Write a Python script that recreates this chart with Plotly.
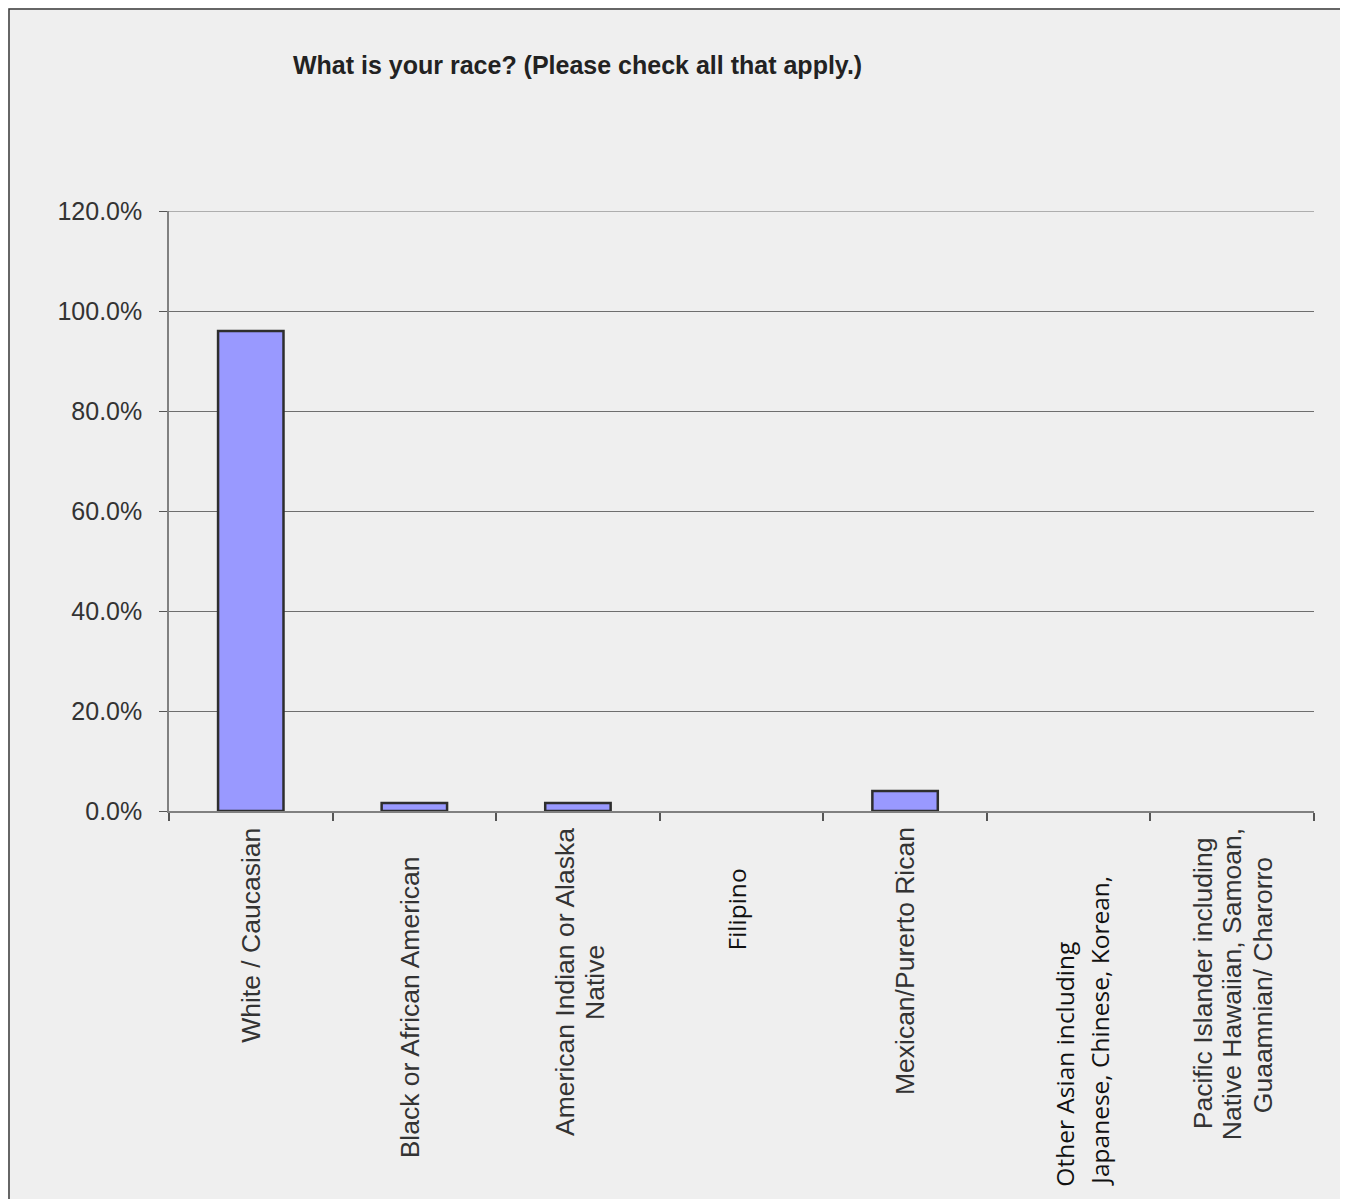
import plotly.graph_objects as go

# ---- data ----
categories = [
    "White / Caucasian",
    "Black or African American",
    "American Indian or Alaska<br>Native",
    "Filipino",
    "Mexican/Purerto Rican",
    "Other Asian including<br>Japanese, Chinese, Korean,",
    "Pacific Islander including<br>Native Hawaiian, Samoan,<br>Guaamnian/ Charorro",
]
values = [96.0, 1.6, 1.6, 0.0, 4.0, 0.0, 0.0]
y_ticks = [0, 20, 40, 60, 80, 100, 120]
title_text = "What is your race? (Please check all that apply.)"

# ---- layout constants (pixels, figure coords; page has an 8px body margin) ----
OFF = 8
W, H = 1338, 1191
L, T = 169 - OFF, 211 - OFF
R = W - (1314 - OFF)
B = H - (811 - OFF)
plot_h = H - T - B
plot_w = W - L - R

BG = "#EFEFEF"
GRID = "#6e6e6e"

fig = go.Figure()
fig.add_trace(go.Bar(
    x=list(range(len(categories))),
    y=values,
    marker=dict(color="#9999FF",
                line=dict(color="#2e2e2e", width=[2.5 if v > 0 else 0 for v in values])),
    width=0.4,
    hoverinfo="skip",
))

# top gridline (at the range edge, which plotly skips)
fig.add_hline(y=y_ticks[-1], line=dict(color=GRID, width=1), layer="below")

# label styling per line: vertical centre (screen px), x shift px
label_line_center_px = [[935], [1007], [982, 982], [910], [961], [1064, 1031], [983, 984, 985]]
label_line_xshift = [[0], [-4], [-13, 17], [-6], [0], [-5, 30], [-29, 0, 31]]
label_font = ["Liberation Sans", "Liberation Sans", "Liberation Sans", "Open Sans",
              "Liberation Sans", "Open Sans", "Liberation Sans"]
label_size = [26.5, 26.5, 26.5, 24.5, 26.5, 24.5, 26.5]
label_color = ["#333333", "#333333", "#333333", "#111111", "#333333", "#111111", "#333333"]

for i, cat in enumerate(categories):
    for j, line in enumerate(cat.split("<br>")):
        cy = label_line_center_px[i][j] - OFF
        fig.add_annotation(
            x=i, xref="x",
            y=(H - B - cy) / plot_h, yref="paper",
            text=line, showarrow=False, textangle=-90,
            xanchor="center", yanchor="middle",
            xshift=label_line_xshift[i][j],
            font=dict(family=label_font[i], size=label_size[i], color=label_color[i]),
        )

# outer border
fig.add_shape(
    type="rect", xref="paper", yref="paper",
    x0=(1 - L) / plot_w, x1=(1345 - OFF - L) / plot_w,
    y0=(H - B - 1250) / plot_h, y1=(H - B - 1) / plot_h,
    line=dict(color="#3a3a3a", width=1.5), fillcolor="rgba(0,0,0,0)", layer="below",
)

fig.update_layout(
    width=W, height=H,
    margin=dict(l=L, r=R, t=T, b=B, pad=0),
    paper_bgcolor=BG, plot_bgcolor=BG,
    showlegend=False,
    title=dict(
        text=title_text,
        font=dict(family="Liberation Sans", size=25, color="#222222", weight="bold"),
        xref="container", yref="container",
        x=(293 - OFF) / W, xanchor="left",
        y=1 - (65 - OFF) / H, yanchor="middle",
    ),
    bargap=0.6,
)

fig.update_xaxes(
    type="linear",
    range=[-0.5, len(categories) - 0.5],
    tickmode="array",
    tickvals=[i - 0.5 for i in range(len(categories) + 1)],
    ticktext=[""] * (len(categories) + 1),
    ticks="outside", ticklen=8, tickcolor="#555555", tickwidth=1.5,
    showline=True, linecolor="#808080", linewidth=2,
    showgrid=False, zeroline=False, fixedrange=True,
)
fig.update_yaxes(
    range=[0, 120],
    tickmode="array", tickvals=y_ticks,
    ticktext=[f"{v:.1f}%" for v in y_ticks],
    ticks="outside", ticklen=8, tickcolor="#555555", tickwidth=1,
    ticklabelstandoff=12,
    showline=True, linecolor="#808080", linewidth=1.5,
    showgrid=True, gridcolor=GRID, gridwidth=1,
    zeroline=False,
    tickfont=dict(family="Liberation Sans", size=25, color="#333333"),
    fixedrange=True,
)

fig.write_html("out.html")
